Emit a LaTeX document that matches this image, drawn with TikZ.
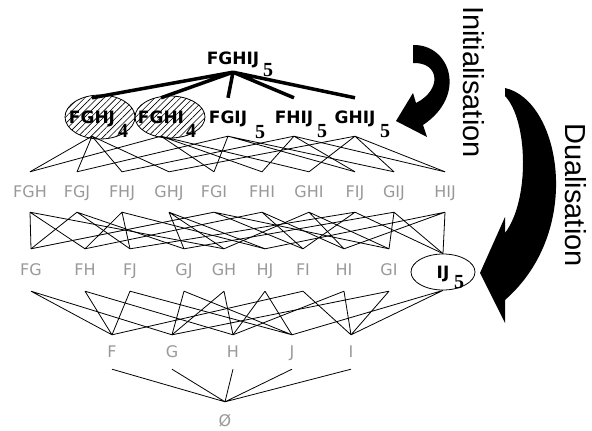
\documentclass[tikz,border=0pt]{standalone}
\usepackage{fontspec}
\setmainfont{DejaVu Sans}
\newfontfamily\arialfont{Liberation Sans}
\newfontfamily\timesfont{Liberation Serif}
\usetikzlibrary{patterns.meta,shapes.geometric}

\tikzset{
  setlbl/.style={text=gray!80, font=\fontsize{16}{16}\selectfont, inner sep=0pt, text height=11.5pt, text depth=0pt},
  maxlbl/.style={font=\bfseries\fontsize{17}{17}\selectfont, inner sep=0pt, minimum height=38pt, text height=12.5pt, text depth=0pt},
  suplbl/.style={font=\timesfont\bfseries\fontsize{20}{20}\selectfont, inner sep=0pt},
  edge/.style={line width=0.8pt},
  boldedge/.style={line width=3.5pt},
  hatch/.style={draw, line width=0.8pt, pattern={Lines[angle=45,distance=4.5pt,line width=0.6pt]}},
  steplbl/.style={rotate=-90, font=\arialfont\fontsize{29}{29}\selectfont, inner sep=0pt}
}

\begin{document}
\begin{tikzpicture}[x=1pt,y=-1pt]
    \useasboundingbox (0,0) rectangle (592,431);
    % bordure hachuree
    \draw[hatch] (100,117) ellipse [x radius=35pt, y radius=22pt];
    \draw[hatch] (170,117) ellipse [x radius=35pt, y radius=21pt];
    % niveau 5
    \node[maxlbl, minimum height=28pt] (FGHIJ) at (233,58) {FGHIJ};
    \node[suplbl] (sFGHIJ) at (268,70) {5};
    % niveau 4
    \node[maxlbl] (FGHJ) at (92,117) {FGHJ};
    \node[maxlbl] (FGHI) at (161,117) {FGHI};
    \node[maxlbl] (FGIJ) at (228,117) {FGIJ};
    \node[maxlbl] (FHIJ) at (294,117) {FHIJ};
    \node[maxlbl] (GHIJ) at (355,117) {GHIJ};
    \node[suplbl] (sFGHJ) at (123,131) {4};
    \node[suplbl] (sFGHI) at (191,131) {4};
    \node[suplbl] (sFGIJ) at (260,132) {5};
    \node[suplbl] (sFHIJ) at (322,131) {5};
    \node[suplbl] (sGHIJ) at (385,131) {5};
    % niveau 3
    \node[setlbl, minimum height=40pt] (FGH) at (30,192) {FGH};
    \node[setlbl, minimum height=40pt] (FGJ) at (77,192) {FGJ};
    \node[setlbl, minimum height=40pt] (FHJ) at (122,192) {FHJ};
    \node[setlbl, minimum height=40pt] (GHJ) at (169,192) {GHJ};
    \node[setlbl, minimum height=40pt] (FGI) at (214,192) {FGI};
    \node[setlbl, minimum height=40pt] (FHI) at (262,192) {FHI};
    \node[setlbl, minimum height=40pt] (GHI) at (309,192) {GHI};
    \node[setlbl, minimum height=40pt] (FIJ) at (355,192) {FIJ};
    \node[setlbl, minimum height=40pt] (GIJ) at (394,192) {GIJ};
    \node[setlbl, minimum height=40pt] (HIJ) at (445,192) {HIJ};
    % niveau 2
    \node[setlbl, minimum height=42pt] (FG) at (31,270) {FG};
    \node[setlbl, minimum height=42pt] (FH) at (85,270) {FH};
    \node[setlbl, minimum height=42pt] (FJ) at (130,270) {FJ};
    \node[setlbl, minimum height=42pt] (GJ) at (184,270) {GJ};
    \node[setlbl, minimum height=42pt] (GH) at (224,270) {GH};
    \node[setlbl, minimum height=42pt] (HJ) at (265,270) {HJ};
    \node[setlbl, minimum height=42pt] (FI) at (303,270) {FI};
    \node[setlbl, minimum height=42pt] (HI) at (344,270) {HI};
    \node[setlbl, minimum height=42pt] (GI) at (389,270) {GI};
    \node[maxlbl, draw, ellipse, line width=0.8pt, minimum width=64pt, minimum height=36pt] (IJ) at (443,272) {IJ\hspace{10pt}};
    \node[suplbl] (sIJ) at (459,282) {5};
    % niveau 1
    \node[setlbl, minimum height=34pt] (F) at (112,352) {F};
    \node[setlbl, minimum height=34pt] (G) at (172,352) {G};
    \node[setlbl, minimum height=34pt] (H) at (233,352) {H};
    \node[setlbl, minimum height=34pt] (J) at (292,352) {J};
    \node[setlbl, minimum height=34pt] (I) at (351,352) {I};
    \node[setlbl, minimum height=38pt] (empty) at (225,421) {Ø};
    % aretes
    \draw[boldedge] (FGHIJ.south) -- (FGHJ.north) (FGHIJ.south) -- (FGHI.north) (FGHIJ.south) -- (FGIJ.north)
      (FGHIJ.south) -- (FHIJ.north) (FGHIJ.south) -- (GHIJ.north);
    \draw[edge] (FGHJ.south) -- (FGH.north) (FGHJ.south) -- (FGJ.north) (FGHJ.south) -- (FHJ.north) (FGHJ.south) -- (GHJ.north);
    \draw[edge] (FGHI.south) -- (FGH.north) (FGHI.south) -- (FGI.north) (FGHI.south) -- (FHI.north) (FGHI.south) -- (GHI.north);
    \draw[edge] (FGIJ.south) -- (FGJ.north) (FGIJ.south) -- (FGI.north) (FGIJ.south) -- (FIJ.north) (FGIJ.south) -- (GIJ.north);
    \draw[edge] (FHIJ.south) -- (FHJ.north) (FHIJ.south) -- (FHI.north) (FHIJ.south) -- (FIJ.north) (FHIJ.south) -- (HIJ.north);
    \draw[edge] (GHIJ.south) -- (GHJ.north) (GHIJ.south) -- (GHI.north) (GHIJ.south) -- (GIJ.north) (GHIJ.south) -- (HIJ.north);
    \draw[edge] (FGH.south) -- (FG.north) (FGH.south) -- (FH.north) (FGH.south) -- (GH.north);
    \draw[edge] (FGJ.south) -- (FG.north) (FGJ.south) -- (FJ.north) (FGJ.south) -- (GJ.north);
    \draw[edge] (FHJ.south) -- (FH.north) (FHJ.south) -- (FJ.north) (FHJ.south) -- (HJ.north);
    \draw[edge] (GHJ.south) -- (GH.north) (GHJ.south) -- (GJ.north) (GHJ.south) -- (HJ.north);
    \draw[edge] (FGI.south) -- (FG.north) (FGI.south) -- (FI.north) (FGI.south) -- (GI.north);
    \draw[edge] (FHI.south) -- (FH.north) (FHI.south) -- (FI.north) (FHI.south) -- (HI.north);
    \draw[edge] (GHI.south) -- (GH.north) (GHI.south) -- (GI.north) (GHI.south) -- (HI.north);
    \draw[edge] (FIJ.south) -- (FI.north) (FIJ.south) -- (FJ.north) (FIJ.south) -- (IJ.north);
    \draw[edge] (GIJ.south) -- (GI.north) (GIJ.south) -- (GJ.north) (GIJ.south) -- (IJ.north);
    \draw[edge] (HIJ.south) -- (HI.north) (HIJ.south) -- (HJ.north) (HIJ.south) -- (IJ.north);
    \draw[edge] (FG.south) -- (F.north) (FG.south) -- (G.north) (FH.south) -- (F.north) (FH.south) -- (H.north);
    \draw[edge] (FJ.south) -- (F.north) (FJ.south) -- (J.north) (GJ.south) -- (G.north) (GJ.south) -- (J.north);
    \draw[edge] (GH.south) -- (G.north) (GH.south) -- (H.north) (HJ.south) -- (H.north) (HJ.south) -- (J.north);
    \draw[edge] (FI.south) -- (F.north) (FI.south) -- (I.north) (HI.south) -- (H.north) (HI.south) -- (I.north);
    \draw[edge] (GI.south) -- (G.north) (GI.south) -- (I.north) (IJ.south) -- (I.north) (IJ.south) -- (J.north);
    \draw[edge] (F.south) -- (empty.north) (G.south) -- (empty.north) (H.south) -- (empty.north)
      (J.south) -- (empty.north) (I.south) -- (empty.north);
    % fleches
    \fill (413,45) .. controls (450,44) and (468,95) .. (423,125) -- (427,137) -- (396,121) -- (413,93)
      -- (416,103) .. controls (442,90) and (440,62) .. (413,63) -- cycle;
    \fill (505,88) .. controls (560,100) and (585,230) .. (505,300) -- (505,323) -- (480,273) -- (505,217)
      -- (505,233) .. controls (530,200) and (528,120) .. (505,96) -- cycle;
    \node[steplbl] (init) at (474,82) {Initialisation};
    \node[steplbl] (dual) at (576,195) {Dualisation};
\end{tikzpicture}
\end{document}
